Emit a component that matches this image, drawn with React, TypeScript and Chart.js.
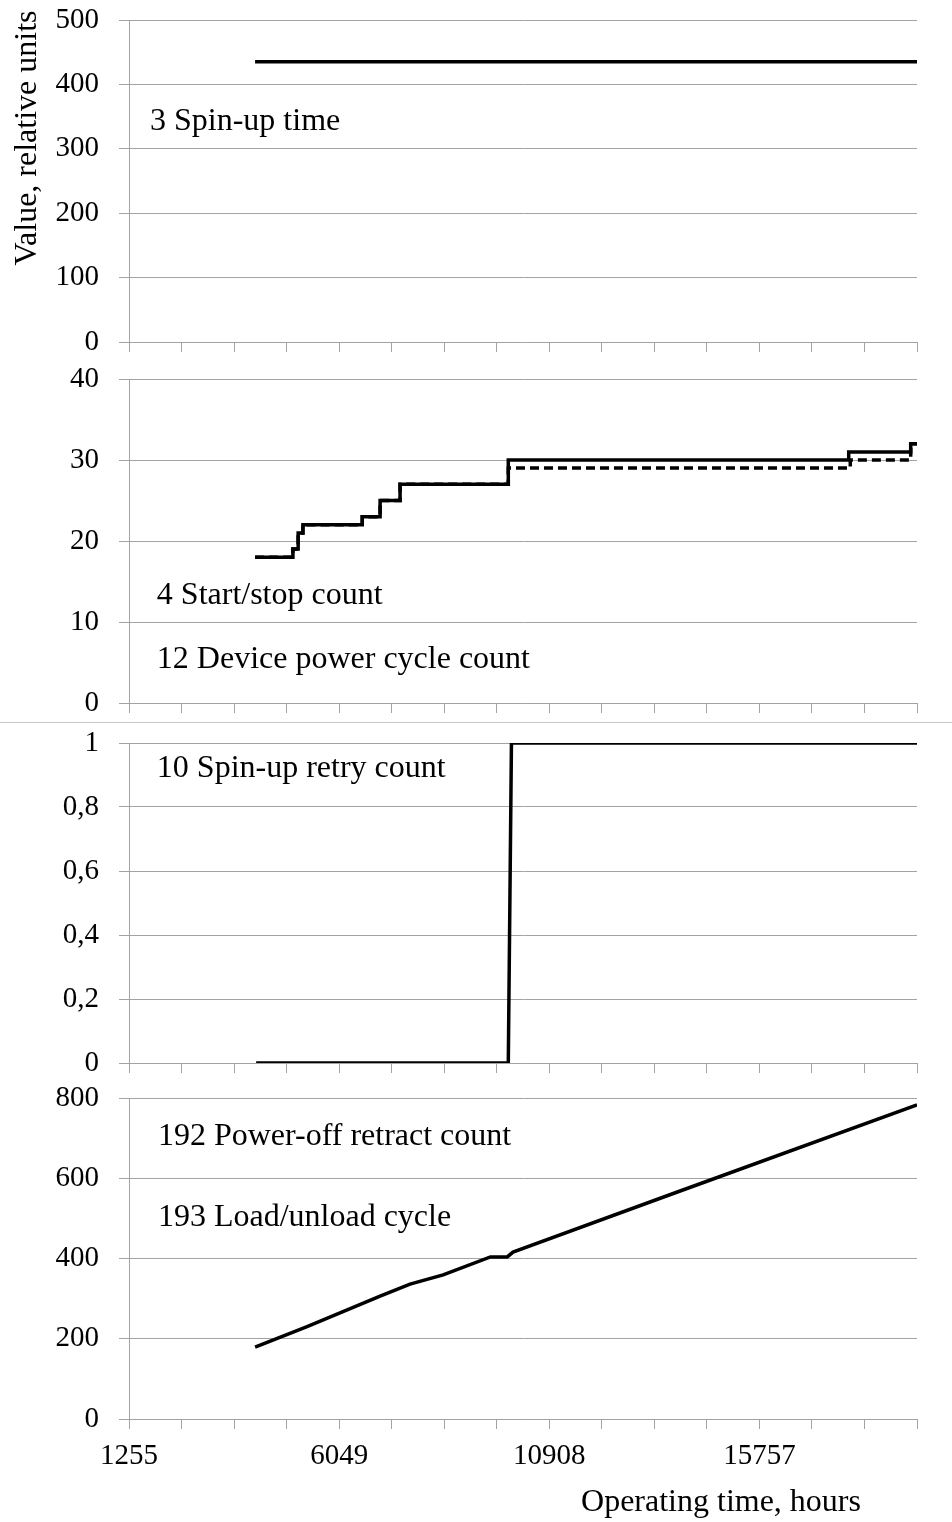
import React, { useEffect, useRef } from "react";
import { Chart, registerables } from "chart.js";

Chart.register(...registerables);

// ---- Data (x in tick-interval units along the category axis: 0 = 1255 h, 4 = 6049 h, 8 = 10908 h, 12 = 15757 h)
const X_TICK_LABELS = ["1255", "", "", "", "6049", "", "", "", "10908", "", "", "", "15757", "", "", ""];

const spinUpX = [2.4, 15];
const spinUpY = [435, 435];

const startStopX = [2.4, 3.12, 3.22, 3.31, 4.44, 4.78, 5.16, 7.22, 13.7, 14.88, 15];
const startStopY = [18, 19, 21, 22, 23, 25, 27, 30, 31, 32, 32];

const powerCycleX = [2.4, 3.12, 3.22, 3.31, 4.44, 4.78, 5.16, 7.22, 13.73, 14.88, 15];
const powerCycleY = [18, 19, 21, 22, 23, 25, 27, 29, 30, 32, 32];

const retryX = [2.42, 7.22, 7.28, 15];
const retryY = [0, 0, 1, 1];

const retractX = [2.4, 3.39, 4.78, 5.35, 5.98, 6.88, 7.2, 7.31, 10.36, 15];
const retractY = [179, 230, 306, 336, 359, 404, 404, 416, 562, 783];

const Y_TITLE = "Value, relative units";
const X_TITLE = "Operating time, hours";

const GRID = "#a3a3a3";
const FONT = "'Liberation Serif', 'Times New Roman', serif";
const TICK_SIZE = 29;
const TEXT_SIZE = 32;

const pts = (xs: number[], ys: number[]) => xs.map((x, i) => ({ x, y: ys[i] }));

type Note = { text: string; x: number; y: number };
type Panel = {
  top: number;
  height: number;
  padTop: number;
  xHeight: number;
  showX: boolean;
  yMin: number;
  yMax: number;
  yStep: number;
  comma?: boolean;
  datasets: any[];
  notes: Note[];
  yTitle?: boolean;
  xTitle?: boolean;
};

const solid = (data: any[], extra: any = {}) => ({
  data,
  borderColor: "#000",
  borderWidth: 3.5,
  pointRadius: 0,
  tension: 0,
  fill: false,
  ...extra,
});

const PANELS: Panel[] = [
  {
    top: 0, height: 360, padTop: 20, xHeight: 18, showX: false,
    yMin: 0, yMax: 500, yStep: 100,
    datasets: [solid(pts(spinUpX, spinUpY))],
    notes: [{ text: "3 Spin-up time", x: 0.4, y: 343 }],
    yTitle: true,
  },
  {
    top: 360, height: 362, padTop: 19, xHeight: 19, showX: false,
    yMin: 0, yMax: 40, yStep: 10,
    datasets: [
      solid(pts(startStopX, startStopY), { stepped: "before" }),
      solid(pts(powerCycleX, powerCycleY), { stepped: "before", borderDash: [9, 5] }),
    ],
    notes: [
      { text: "4 Start/stop count", x: 0.53, y: 13.3 },
      { text: "12 Device power cycle count", x: 0.53, y: 5.4 },
    ],
  },
  {
    top: 723, height: 357, padTop: 20, xHeight: 17, showX: false,
    yMin: 0, yMax: 1, yStep: 0.2, comma: true,
    datasets: [solid(pts(retryX, retryY))],
    notes: [{ text: "10 Spin-up retry count", x: 0.53, y: 0.92 }],
  },
  {
    top: 1080, height: 442, padTop: 18, xHeight: 103, showX: true,
    yMin: 0, yMax: 800, yStep: 200,
    datasets: [solid(pts(retractX, retractY))],
    notes: [
      { text: "192 Power-off retract count", x: 0.55, y: 705 },
      { text: "193 Load/unload cycle", x: 0.55, y: 503 },
    ],
    xTitle: true,
  },
];

const textPlugin = {
  id: "panelText",
  afterDraw(chart: any, _args: any, opts: any) {
    const { ctx, chartArea, scales } = chart;
    const panel: Panel = opts.panel;
    ctx.save();
    ctx.fillStyle = "#000";
    ctx.font = `${TEXT_SIZE}px ${FONT}`;
    ctx.textAlign = "left";
    ctx.textBaseline = "middle";
    for (const n of panel.notes) {
      ctx.fillText(n.text, scales.x.getPixelForValue(n.x), scales.y.getPixelForValue(n.y));
    }
    if (panel.yTitle) {
      ctx.save();
      ctx.translate(28, 138);
      ctx.rotate(-Math.PI / 2);
      ctx.textAlign = "center";
      ctx.fillText(Y_TITLE, 0, 0);
      ctx.restore();
    }
    if (panel.xTitle) {
      ctx.textAlign = "center";
      ctx.fillText(X_TITLE, chartArea.right - 196, chartArea.bottom + 84);
    }
    ctx.restore();
  },
};

function PanelChart({ panel }: { panel: Panel }) {
  const ref = useRef<HTMLCanvasElement | null>(null);
  useEffect(() => {
    if (!ref.current) return;
    const chart = new Chart(ref.current, {
      type: "line",
      data: { datasets: panel.datasets },
      options: {
        responsive: false,
        animation: false,
        devicePixelRatio: 1,
        layout: { padding: { top: panel.padTop, right: 35, bottom: 0, left: 0 } },
        plugins: {
          legend: { display: false },
          tooltip: { enabled: false },
          panelText: { panel },
        } as any,
        scales: {
          x: {
            type: "linear",
            min: 0,
            max: 15,
            ticks: {
              stepSize: 1,
              autoSkip: false,
              maxRotation: 0,
              display: panel.showX,
              color: "#000",
              padding: 10,
              font: { family: FONT, size: TICK_SIZE },
              callback: (v: any) => X_TICK_LABELS[Math.round(Number(v))] ?? "",
            },
            grid: { drawOnChartArea: false, drawTicks: true, tickLength: 10, color: GRID },
            border: { color: GRID, width: 1 },
            afterFit: (s: any) => {
              s.height = panel.xHeight;
              s.paddingLeft = 0;
              s.paddingRight = 0;
            },
          },
          y: {
            min: panel.yMin,
            max: panel.yMax,
            ticks: {
              stepSize: panel.yStep,
              color: "#000",
              padding: 20,
              font: { family: FONT, size: TICK_SIZE },
              callback: (v: any) => {
                if (!panel.comma) return String(v);
                const s = Number(v).toFixed(1);
                return s.endsWith(".0") ? s.slice(0, -2) : s.replace(".", ",");
              },
            },
            grid: { color: GRID, tickLength: 10 },
            border: { color: GRID, width: 1 },
            afterFit: (s: any) => {
              s.width = 129;
              s.paddingTop = 0;
              s.paddingBottom = 0;
            },
          },
        },
      } as any,
      plugins: [textPlugin],
    });
    return () => chart.destroy();
  }, [panel]);
  return (
    <canvas
      ref={ref}
      width={952}
      height={panel.height}
      style={{ position: "absolute", left: 0, top: panel.top, width: 952, height: panel.height, display: "block" }}
    />
  );
}

export default function App() {
  return (
    <div style={{ position: "absolute", left: 0, top: 0, width: 952, height: 1522, background: "#fff", overflow: "hidden" }}>
      {PANELS.map((p, i) => (
        <PanelChart key={i} panel={p} />
      ))}
      <div style={{ position: "absolute", left: 0, top: 722, width: 952, height: 1, background: "#c6c6c6" }} />
    </div>
  );
}
